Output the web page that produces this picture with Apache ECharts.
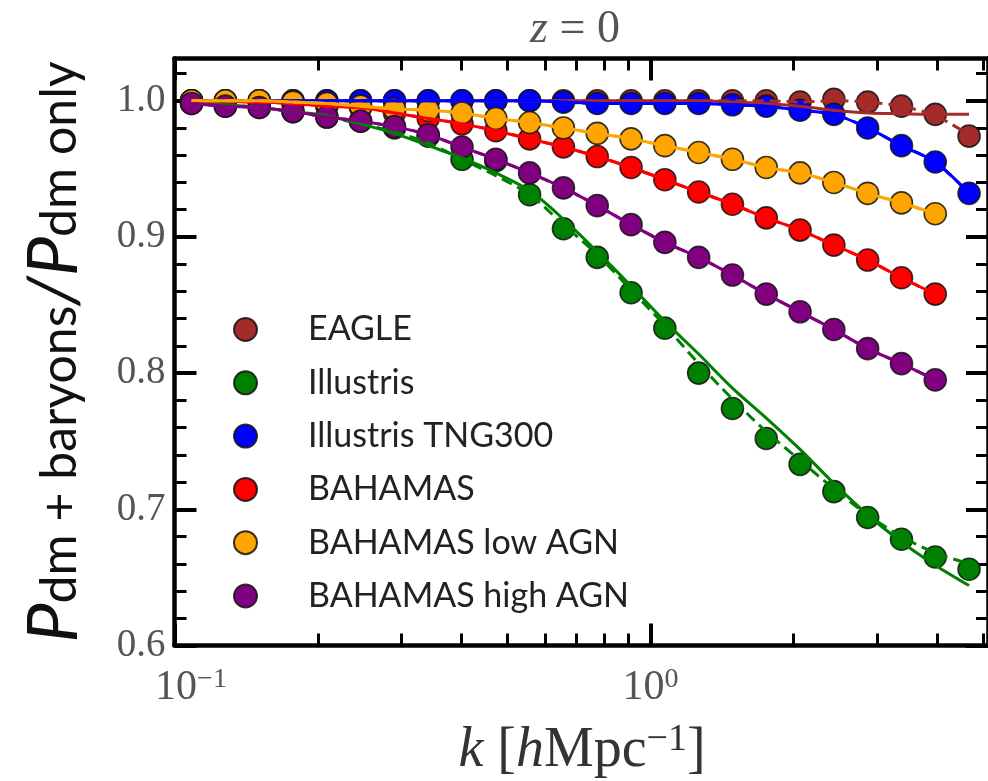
<!DOCTYPE html>
<html>
<head>
<meta charset="utf-8">
<script src="https://cdn.jsdelivr.net/npm/echarts@6/dist/echarts.min.js"></script>
<style>
html, body { margin: 0; padding: 0; background: #fff; }
#chart { width: 988px; height: 781px; }
</style>
</head>
<body>
<div id="chart"></div>
<script>
// Wavenumbers k [h/Mpc] of the measured bins
const kValues = [0.1086, 0.1279, 0.1507, 0.1774, 0.2090, 0.2460, 0.2899, 0.3413, 0.4019, 0.4733,
  0.5573, 0.6565, 0.7731, 0.9106, 1.0722, 1.2627, 1.4870, 1.7513, 2.0624, 2.4288,
  2.8604, 3.3688, 3.9665, 4.6720];

// Power spectrum ratio P_dm+baryons / P_dm only, per simulation (points)
const eaglePoints = [1.000, 1.000, 1.000, 1.000, 1.000, 1.000, 1.000, 1.000, 1.000, 1.000,
  1.000, 1.000, 1.000, 1.000, 1.000, 1.000, 1.000, 1.000, 0.999, 1.001,
  0.999, 0.996, 0.990, 0.974];
const illustrisPoints = [0.998, 0.996, 0.995, 0.992, 0.988, 0.985, 0.980, 0.974, 0.957, 0.956,
  0.931, 0.906, 0.885, 0.859, 0.833, 0.800, 0.774, 0.752, 0.733, 0.713,
  0.694, 0.678, 0.665, 0.656];
const tngPoints = [1.000, 1.000, 1.000, 1.000, 1.000, 1.000, 1.000, 1.000, 1.000, 1.000,
  1.000, 0.999, 0.998, 0.998, 0.998, 0.998, 0.997, 0.996, 0.993, 0.990,
  0.980, 0.967, 0.955, 0.932];
const bahamasPoints = [1.000, 0.9995, 0.999, 0.998, 0.996, 0.995, 0.991, 0.987, 0.983, 0.978,
  0.972, 0.966, 0.959, 0.951, 0.942, 0.933, 0.924, 0.914, 0.905, 0.894,
  0.883, 0.870, 0.858];
const lowAgnPoints = [1.000, 1.000, 1.000, 0.999, 0.998, 0.996, 0.994, 0.993, 0.991, 0.987,
  0.984, 0.980, 0.976, 0.972, 0.967, 0.962, 0.957, 0.951, 0.947, 0.940,
  0.932, 0.925, 0.917];
const highAgnPoints = [0.998, 0.996, 0.995, 0.992, 0.988, 0.985, 0.981, 0.975, 0.966, 0.957,
  0.947, 0.936, 0.923, 0.909, 0.896, 0.885, 0.872, 0.858, 0.845, 0.832,
  0.818, 0.807, 0.795];

// Model curves (solid and dashed) where they depart from the points
const eagleSolid = [1.000, 1.000, 1.000, 1.000, 1.000, 1.000, 1.000, 1.000, 1.000, 1.000,
  1.000, 1.000, 1.000, 1.000, 1.000, 1.000, 0.999, 0.998, 0.996, 0.993,
  0.991, 0.9905, 0.990, 0.990];
const eagleDashed = [1.000, 1.000, 1.000, 1.000, 1.000, 1.000, 1.000, 1.000, 1.000, 1.000,
  1.000, 1.000, 1.000, 1.000, 1.000, 1.000, 1.000, 1.000, 0.999, 1.000,
  0.999, 0.996, 0.989, 0.975];
const illustrisSolid = [0.998, 0.997, 0.995, 0.992, 0.989, 0.983, 0.976, 0.967, 0.958, 0.947,
  0.934, 0.913, 0.889, 0.864, 0.838, 0.814, 0.789, 0.767, 0.744, 0.719,
  0.696, 0.676, 0.659, 0.644];
const illustrisDashed = [0.998, 0.997, 0.995, 0.992, 0.988, 0.983, 0.977, 0.969, 0.957, 0.945,
  0.931, 0.909, 0.887, 0.861, 0.835, 0.807, 0.781, 0.757, 0.736, 0.715,
  0.696, 0.680, 0.668, 0.660];

// Axis tick positions and labels
const kMajorTicks = [0.1, 1];
const kMinorTicks = [0.2, 0.3, 0.4, 0.5, 0.6, 0.7, 0.8, 0.9, 2, 3, 4, 5];
const ratioMajorTicks = [0.6, 0.7, 0.8, 0.9, 1.0];
const ratioMinorTicks = [0.62, 0.64, 0.66, 0.68, 0.72, 0.74, 0.76, 0.78, 0.82, 0.84, 0.86, 0.88,
  0.92, 0.94, 0.96, 0.98, 1.02];
const simNames = ['EAGLE', 'Illustris', 'Illustris TNG300', 'BAHAMAS', 'BAHAMAS low AGN', 'BAHAMAS high AGN'];

const toPairs = vals => vals.map((v, i) => [kValues[i], v]);

const sims = [
  { name: simNames[0], color: '#a52a2a', pts: eaglePoints, solid: eagleSolid, dashed: eagleDashed },
  { name: simNames[1], color: '#008000', pts: illustrisPoints, solid: illustrisSolid, dashed: illustrisDashed },
  { name: simNames[2], color: '#0000ff', pts: tngPoints, solid: tngPoints, dashed: tngPoints },
  { name: simNames[3], color: '#ff0000', pts: bahamasPoints, solid: bahamasPoints, dashed: bahamasPoints },
  { name: simNames[4], color: '#ffa500', pts: lowAgnPoints, solid: lowAgnPoints, dashed: lowAgnPoints },
  { name: simNames[5], color: '#800080', pts: highAgnPoints, solid: highAgnPoints, dashed: highAgnPoints }
];

const series = [];
sims.forEach(s => {
  series.push({
    name: s.name + ' solid', type: 'line', data: toPairs(s.solid), showSymbol: false, smooth: 0.3,
    lineStyle: { color: s.color, width: 3 }, silent: true
  });
  series.push({
    name: s.name + ' dashed', type: 'line', data: toPairs(s.dashed), showSymbol: false, smooth: 0.3,
    lineStyle: { color: s.color, width: 3, type: [11, 6] }, silent: true
  });
  series.push({
    name: s.name, type: 'scatter', data: toPairs(s.pts), symbol: 'circle', symbolSize: 22,
    itemStyle: { color: s.color, borderColor: 'rgba(20,20,20,0.85)', borderWidth: 1.6, opacity: 1 }
  });
});

const serif = '"Liberation Serif", "DejaVu Serif", serif';
const sans = 'Lato, "Open Sans", sans-serif';

const kBase = { type: 'log', logBase: 10, min: 0.1, max: 5.12, gridIndex: 0,
  splitLine: { show: false }, minorTick: { show: false }, minorSplitLine: { show: false } };
const rBase = { type: 'value', min: 0.6, max: 1.031, interval: 0.1, gridIndex: 0,
  splitLine: { show: false }, minorTick: { show: false }, minorSplitLine: { show: false } };
const spine = { show: true, lineStyle: { color: '#000', width: 4.5 } };
const majorTick = list => ({ show: true, inside: true, length: 22, lineStyle: { color: '#000', width: 4 }, customValues: list });
const minorTick = list => ({ show: true, inside: true, length: 12, lineStyle: { color: '#000', width: 3 }, customValues: list });

const option = {
  animation: false,
  backgroundColor: '#fff',
  grid: { left: 174.5, top: 58.5, width: 815.5, height: 587, containLabel: false },
  xAxis: [
    Object.assign({}, kBase, {
      position: 'bottom', axisLine: spine, axisTick: majorTick(kMajorTicks),
      axisLabel: {
        show: true, customValues: kMajorTicks, margin: 20,
        formatter: v => (v < 0.5 ? '{p| }{m|10}{s|−1}' : '{m|10}{s|0}'),
        rich: {
          p: { width: 33, fontSize: 10, lineHeight: 44 },
          m: { fontFamily: serif, fontSize: 42, lineHeight: 44, color: '#555' },
          s: { fontFamily: serif, fontSize: 28, lineHeight: 18, verticalAlign: 'top', color: '#555' }
        }
      }
    }),
    Object.assign({}, kBase, { position: 'bottom', axisLine: { show: false }, axisTick: minorTick(kMinorTicks), axisLabel: { show: false } }),
    Object.assign({}, kBase, { position: 'top', axisLine: spine, axisTick: majorTick(kMajorTicks), axisLabel: { show: false } }),
    Object.assign({}, kBase, { position: 'top', axisLine: { show: false }, axisTick: minorTick(kMinorTicks), axisLabel: { show: false } })
  ],
  yAxis: [
    Object.assign({}, rBase, {
      position: 'left', axisLine: spine, axisTick: majorTick(ratioMajorTicks),
      axisLabel: {
        show: true, customValues: ratioMajorTicks, margin: 9,
        formatter: v => v.toFixed(1),
        fontFamily: serif, fontSize: 39, color: '#555'
      }
    }),
    Object.assign({}, rBase, { position: 'left', axisLine: { show: false }, axisTick: minorTick(ratioMinorTicks), axisLabel: { show: false } }),
    Object.assign({}, rBase, { position: 'right', axisLine: spine, axisTick: majorTick(ratioMajorTicks), axisLabel: { show: false } }),
    Object.assign({}, rBase, { position: 'right', axisLine: { show: false }, axisTick: minorTick(ratioMinorTicks), axisLabel: { show: false } })
  ],
  legend: {
    data: simNames, orient: 'vertical', left: 228, top: 307.5,
    itemWidth: 23, itemHeight: 23, itemGap: 19.3, icon: 'circle', selectedMode: false,
    formatter: n => '{t|' + n + '}',
    textStyle: { rich: { t: { fontFamily: sans, fontSize: 34, color: '#222', lineHeight: 23, padding: [0, 0, 0, 46] } } }
  },
  graphic: [
    {
      type: 'text', x: 575, y: 30, silent: true,
      style: {
        text: '{i|z}{r| = 0}', align: 'center', verticalAlign: 'middle',
        rich: {
          i: { fontFamily: serif, fontStyle: 'italic', fontSize: 46, fill: '#555', lineHeight: 50 },
          r: { fontFamily: serif, fontSize: 46, fill: '#555', lineHeight: 50 }
        }
      }
    },
    {
      type: 'text', x: 582, y: 751, silent: true,
      style: {
        text: '{i|k}{r| [}{i|h}{r|Mpc}{s|−1}{r|]}', align: 'center', verticalAlign: 'middle',
        rich: {
          i: { fontFamily: serif, fontStyle: 'italic', fontSize: 56, fill: '#333', lineHeight: 60 },
          r: { fontFamily: serif, fontSize: 56, fill: '#333', lineHeight: 60 },
          s: { fontFamily: serif, fontSize: 38, fill: '#333', lineHeight: 22, verticalAlign: 'top' }
        }
      }
    },
    {
      // rotated y-axis title; the P tokens carry bottom padding so the subscripts sit lower
      type: 'text', x: 52, y: 352, rotation: Math.PI / 2, silent: true,
      style: {
        text: '{P|P}{b|dm + baryons}{P|/P}{b|dm only}', align: 'center', verticalAlign: 'middle',
        rich: {
          P: { fontFamily: sans, fontStyle: 'italic', fontSize: 70, fill: '#111', lineHeight: 66, padding: [0, 0, 16, 0], verticalAlign: 'top' },
          b: { fontFamily: sans, fontSize: 50, fill: '#111', lineHeight: 46, verticalAlign: 'bottom' }
        }
      }
    }
  ],
  series: series
};

const chart = echarts.init(document.getElementById('chart'));
chart.setOption(option);
</script>
</body>
</html>
